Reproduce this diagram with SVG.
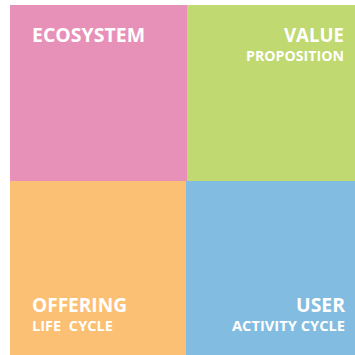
<svg xmlns="http://www.w3.org/2000/svg" width="355" height="355" viewBox="0 0 355 355">
<style>
.t{font-family:"Open Sans","Liberation Sans",sans-serif;font-weight:bold;fill:#ffffff}
.big{font-size:19px}
.small{font-size:14px}
</style>
<rect x="0" y="0" width="355" height="355" fill="#ffffff"/>
<g id="ecosystem">
<rect x="10" y="5" width="177" height="176" fill="#E891B8"/>
<text class="t big" x="32" y="41.5" textLength="113" lengthAdjust="spacingAndGlyphs">ECOSYSTEM</text>
</g>
<g id="value-proposition">
<rect x="187" y="5" width="168" height="176" fill="#C0D970"/>
<text class="t big" x="344" y="41.5" text-anchor="end" textLength="60" lengthAdjust="spacingAndGlyphs">VALUE</text>
<text class="t small" x="344" y="61" text-anchor="end" textLength="98" lengthAdjust="spacingAndGlyphs">PROPOSITION</text>
</g>
<g id="offering-life-cycle">
<rect x="10" y="181" width="176" height="174" fill="#FBC073"/>
<text class="t big" x="32" y="311.5" textLength="95" lengthAdjust="spacingAndGlyphs">OFFERING</text>
<text class="t small" x="32" y="331" textLength="81" lengthAdjust="spacingAndGlyphs" xml:space="preserve">LIFE  CYCLE</text>
</g>
<g id="user-activity-cycle">
<rect x="186" y="181" width="169" height="174" fill="#82BCE0"/>
<text class="t big" x="345" y="311.5" text-anchor="end" textLength="49" lengthAdjust="spacingAndGlyphs">USER</text>
<text class="t small" x="345" y="331" text-anchor="end" textLength="113" lengthAdjust="spacingAndGlyphs">ACTIVITY CYCLE</text>
</g>
<g id="connectors"/>
</svg>
